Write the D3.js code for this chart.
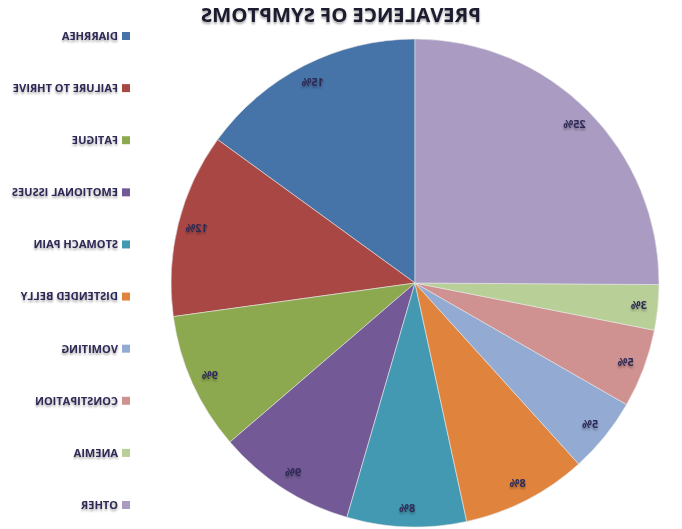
<!DOCTYPE html>
<html><head><meta charset="utf-8">
<script src="https://cdn.jsdelivr.net/npm/d3@7"></script>
<style>body{margin:0;background:#fff}svg{display:block}</style>
</head><body>
<svg id="c" width="682" height="529"></svg>
<script>
const categories = ["DIARRHEA","FAILURE TO THRIVE","FATIGUE","EMOTIONAL ISSUES","STOMACH PAIN","DISTENDED BELLY","VOMITING","CONSTIPATION","ANEMIA","OTHER"];
const values = [15.0, 12.2, 9.1, 9.2, 7.9, 8.3, 5.0, 5.2, 3.0, 25.1];
const labels = ["15%","12%","9%","9%","8%","8%","5%","5%","3%","25%"];
const colors = ["#4673A8","#A94744","#8CA94F","#735A96","#4299B1","#E0843D","#93AAD3","#D09291","#B9CF98","#A99BC1"];
const title = "PREVALENCE OF SYMPTOMS";

const W = 682, H = 529;
const svg = d3.select("#c");
const defs = svg.append("defs");
const f = defs.append("filter").attr("id","sh").attr("x","-20%").attr("y","-50%").attr("width","140%").attr("height","220%");
f.append("feDropShadow").attr("dx",0).attr("dy",2).attr("stdDeviation",1.2).attr("flood-color","#000").attr("flood-opacity",0.35);

// whole chart is mirrored horizontally, as in the reference
const root = svg.append("g").attr("transform", `translate(${W},0) scale(-1,1)`);

const cx = W - 415, cy = 283, r = 244;
const pie = d3.pie().sort(null).value(d => d)(values);
const arc = d3.arc().innerRadius(0).outerRadius(r);
const labelArc = d3.arc().innerRadius(225).outerRadius(225);

const g = root.append("g").attr("transform", `translate(${cx},${cy})`);
g.selectAll("path").data(pie).join("path")
  .attr("d", arc)
  .attr("fill", (d,i) => colors[i])
  .attr("stroke", "#e6e6e6").attr("stroke-width", 0.6);

g.selectAll("text").data(pie).join("text")
  .attr("transform", d => `translate(${labelArc.centroid(d)})`)
  .attr("text-anchor","middle").attr("dy","0.35em")
  .attr("font-family","'Open Sans', 'DejaVu Sans', sans-serif")
  .attr("font-weight","bold").attr("font-size",11)
  .attr("fill","#2E2A55").attr("filter","url(#sh)")
  .text((d,i) => labels[i]);

// title
root.append("text").attr("x", 341).attr("y", 22)
  .attr("text-anchor","middle")
  .attr("font-family","'Open Sans', 'DejaVu Sans', sans-serif")
  .attr("font-weight","bold").attr("font-size",20.3)
  .attr("fill","#1a1a2e").attr("filter","url(#sh)")
  .text(title);

// legend
const ly = d3.scalePoint().domain(categories).range([36, 505]);
const leg = root.append("g");
const items = leg.selectAll("g").data(categories).join("g")
  .attr("transform", d => `translate(552,${ly(d)})`);
items.append("rect").attr("x",0).attr("y",-4).attr("width",8).attr("height",8)
  .attr("fill",(d,i)=>colors[i]);
items.append("text").attr("x",12).attr("dy","0.35em")
  .attr("font-family","'Open Sans', 'DejaVu Sans', sans-serif")
  .attr("font-weight","bold").attr("font-size",11)
  .attr("fill","#2E2A55").attr("filter","url(#sh)")
  .text(d=>d);
</script>
</body></html>
